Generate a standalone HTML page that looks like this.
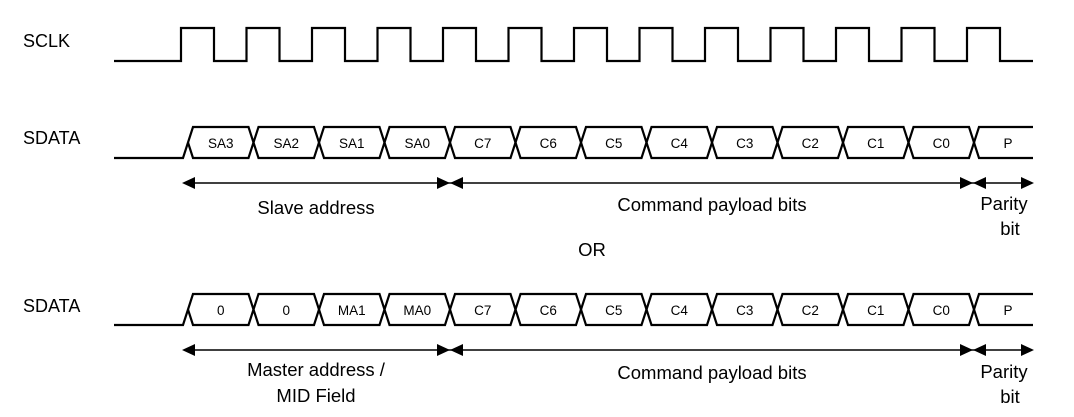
<!DOCTYPE html>
<html><head><meta charset="utf-8"><style>
html,body{margin:0;padding:0;background:#fff;}
svg{display:block;}
text{font-family:"Liberation Sans",Arial,sans-serif;fill:#000;}
</style></head><body>
<svg width="1074" height="417" viewBox="0 0 1074 417" xmlns="http://www.w3.org/2000/svg">
<g fill="none" stroke="#000" stroke-width="2.2" stroke-linejoin="miter">
<path d="M114,61 H181 V28 H214 V61 H246.5 V28 H279.5 V61 H312 V28 H345 V61 H377.5 V28 H410.5 V61 H443 V28 H476 V61 H508.5 V28 H541.5 V61 H574 V28 H607 V61 H639.5 V28 H672.5 V61 H705 V28 H738 V61 H770.5 V28 H803.5 V61 H836 V28 H869 V61 H901.5 V28 H934.5 V61 H967 V28 H1000 V61 H1033"/>
</g>
<g id="row">
<g fill="none" stroke="#000" stroke-width="2.2" stroke-linejoin="miter">
<polyline points="114,158 183,158 193,127 248.5,127 258.5,158 314,158 324,127 379.5,127 389.5,158 445,158 455,127 510.5,127 520.5,158 576,158 586,127 641.5,127 651.5,158 707,158 717,127 772.5,127 782.5,158 838,158 848,127 903.5,127 913.5,158 969,158 979,127 1033,127"/>
<polyline points="188,142.5 193,158 248.5,158 258.5,127 314,127 324,158 379.5,158 389.5,127 445,127 455,158 510.5,158 520.5,127 576,127 586,158 641.5,158 651.5,127 707,127 717,158 772.5,158 782.5,127 838,127 848,158 903.5,158 913.5,127 969,127 979,158 1033,158"/>
<line x1="185" y1="183" x2="1030" y2="183" stroke-width="1.4"/>
</g>
<g fill="#000">
<polygon points="182,183 195,177 195,189"/>
<polygon points="450,183 437,177 437,189"/>
<polygon points="450,183 463,177 463,189"/>
<polygon points="973,183 960,177 960,189"/>
<polygon points="973,183 986,177 986,189"/>
<polygon points="1034,183 1021,177 1021,189"/>
</g>
</g>
<g transform="translate(0,167)">
<use href="#row"/>
</g>
<g font-size="18">
<text x="23" y="47">SCLK</text>
<text x="23" y="144">SDATA</text>
<text x="23" y="312">SDATA</text>
</g>
<g font-size="13.5" text-anchor="middle">
<text x="220.75" y="148">SA3</text>
<text x="286.25" y="148">SA2</text>
<text x="351.75" y="148">SA1</text>
<text x="417.25" y="148">SA0</text>
<text x="482.75" y="148">C7</text>
<text x="548.25" y="148">C6</text>
<text x="613.75" y="148">C5</text>
<text x="679.25" y="148">C4</text>
<text x="744.75" y="148">C3</text>
<text x="810.25" y="148">C2</text>
<text x="875.75" y="148">C1</text>
<text x="941.25" y="148">C0</text>
<text x="1008" y="148">P</text>
<text x="220.75" y="315">0</text>
<text x="286.25" y="315">0</text>
<text x="351.75" y="315">MA1</text>
<text x="417.25" y="315">MA0</text>
<text x="482.75" y="315">C7</text>
<text x="548.25" y="315">C6</text>
<text x="613.75" y="315">C5</text>
<text x="679.25" y="315">C4</text>
<text x="744.75" y="315">C3</text>
<text x="810.25" y="315">C2</text>
<text x="875.75" y="315">C1</text>
<text x="941.25" y="315">C0</text>
<text x="1008" y="315">P</text>
</g>
<g font-size="18.5" text-anchor="middle">
<text x="316" y="214">Slave address</text>
<text x="712" y="211">Command payload bits</text>
<text x="1004" y="210">Parity</text>
<text x="1010" y="235">bit</text>
<text x="592" y="256">OR</text>
<text x="316" y="376">Master address /</text>
<text x="316" y="402">MID Field</text>
<text x="712" y="379">Command payload bits</text>
<text x="1004" y="378">Parity</text>
<text x="1010" y="403">bit</text>
</g>
</svg>
</body></html>
